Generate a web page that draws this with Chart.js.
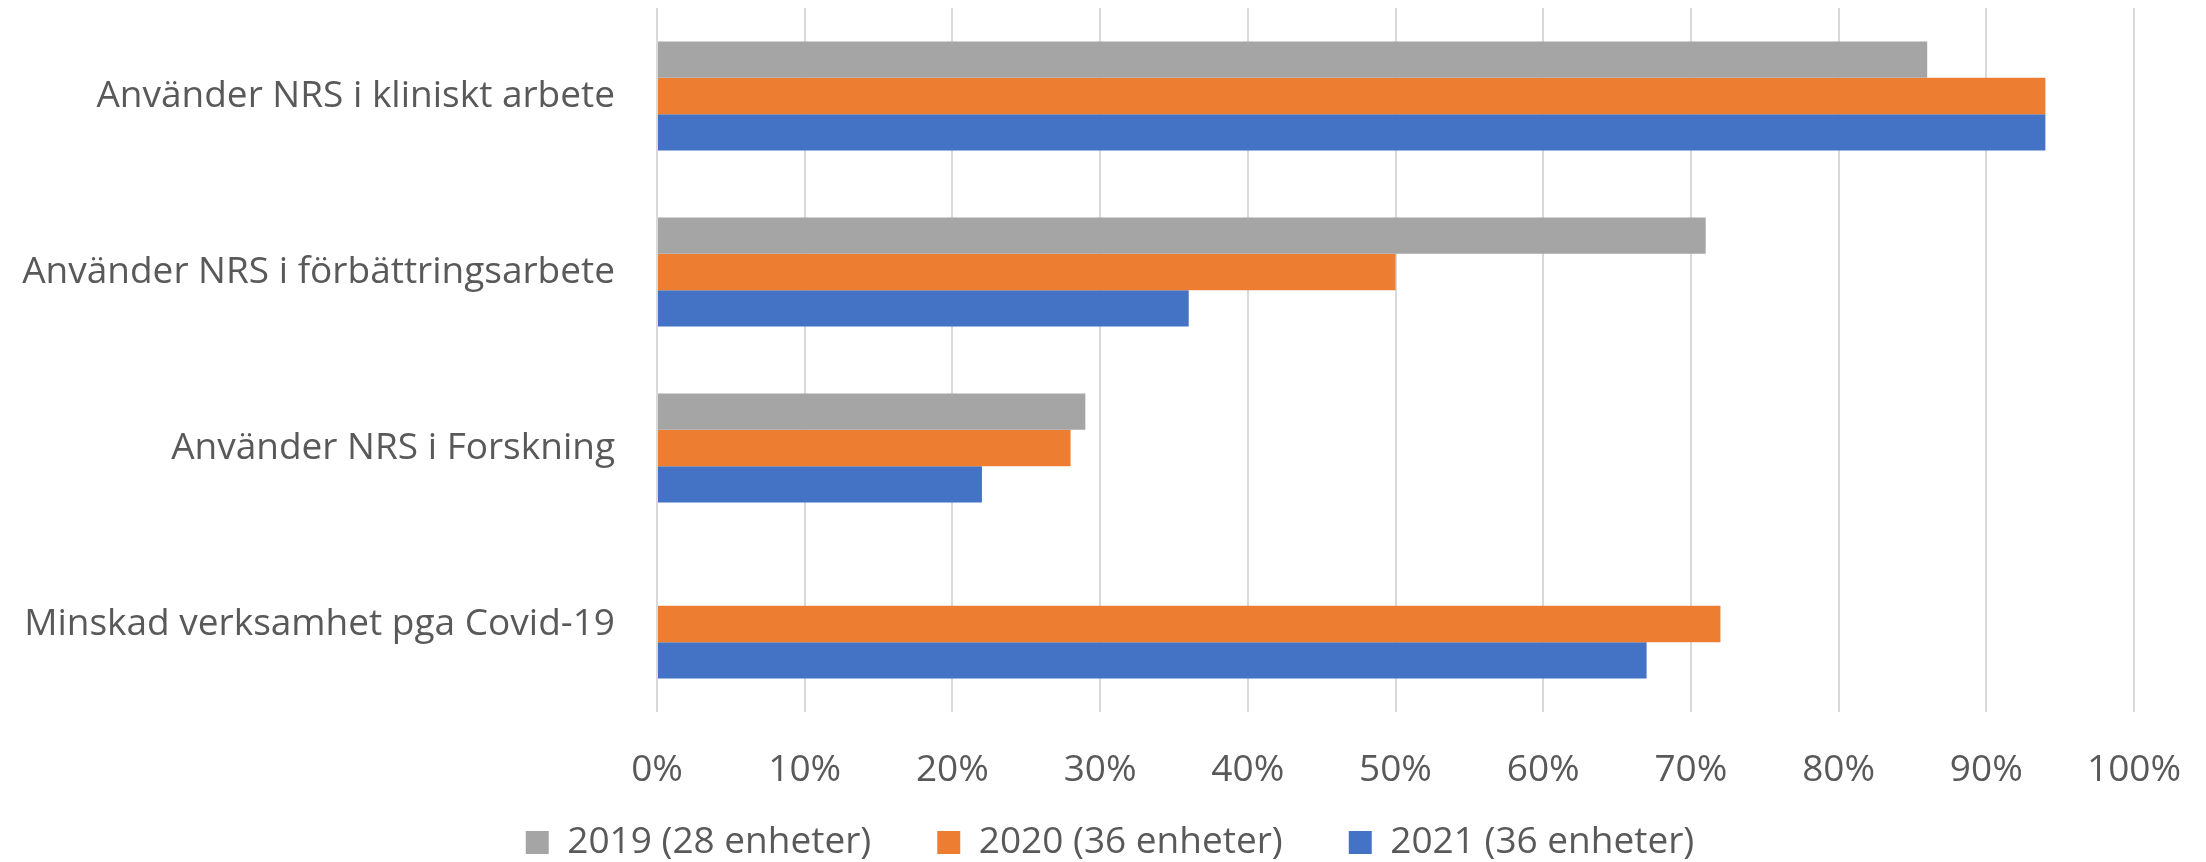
<!DOCTYPE html>
<html>
<head>
<meta charset="utf-8">
<script src="https://cdn.jsdelivr.net/npm/chart.js@4.4.0/dist/chart.umd.min.js"></script>
<style>
    html, body { margin: 0; padding: 0; background: #ffffff; }
    #wrap { width: 2206px; height: 862px; }
</style>
</head>
<body>
<div id="wrap"><canvas id="barChart" width="2206" height="862"></canvas></div>
<script>
const categories = [
    'Använder NRS i kliniskt arbete',
    'Använder NRS i förbättringsarbete',
    'Använder NRS i Forskning',
    'Minskad verksamhet pga Covid-19'
];
const seriesNames = ['2019 (28 enheter)', '2020 (36 enheter)', '2021 (36 enheter)'];
const values2019 = [86, 71, 29, null];
const values2020 = [94, 50, 28, 72];
const values2021 = [94, 36, 22, 67];
const tickValues = [0, 10, 20, 30, 40, 50, 60, 70, 80, 90, 100];

const textColor = '#595959';
const fontFamily = '"Open Sans", sans-serif';
const leftPad = 86;

// labels hang outside their scale boxes here, so don't clip them
function noLabelClip(scale) {
    scale._computeLabelArea = () => null;
}

function createBarChart() {
    const ctx = document.getElementById('barChart').getContext('2d');

    new Chart(ctx, {
        type: 'bar',
        data: {
            labels: categories,
            datasets: [
                { label: seriesNames[0], data: values2019, backgroundColor: '#A5A5A5' },
                { label: seriesNames[1], data: values2020, backgroundColor: '#ED7D31' },
                { label: seriesNames[2], data: values2021, backgroundColor: '#4472C4' }
            ]
        },
        options: {
            indexAxis: 'y',
            responsive: false,
            animation: false,
            devicePixelRatio: 1,
            datasets: {
                bar: { categoryPercentage: 0.62, barPercentage: 1.0 }
            },
            layout: {
                padding: { top: 8, right: 72, bottom: 0, left: leftPad }
            },
            scales: {
                x: {
                    min: 0,
                    max: 100,
                    afterBuildTicks: scale => {
                        scale.ticks = tickValues.map(v => ({ value: v }));
                    },
                    afterFit: scale => {
                        scale.height = 46;
                        scale.paddingLeft = 0;
                        scale.paddingRight = 0;
                        noLabelClip(scale);
                    },
                    grid: { color: '#D9D9D9', lineWidth: 2, drawTicks: false },
                    border: { display: false },
                    ticks: {
                        padding: 36,
                        color: textColor,
                        font: { family: fontFamily, size: 37 },
                        callback: v => v + '%'
                    }
                },
                y: {
                    afterFit: scale => {
                        scale.width = 657 - leftPad;
                        scale.paddingTop = 0;
                        scale.paddingBottom = 0;
                        noLabelClip(scale);
                    },
                    grid: { display: false, drawTicks: false },
                    border: { display: false },
                    ticks: {
                        padding: 42,
                        color: textColor,
                        font: { family: fontFamily, size: 37 }
                    }
                }
            },
            plugins: {
                legend: {
                    position: 'bottom',
                    maxHeight: 104,
                    labels: {
                        color: textColor,
                        font: { family: fontFamily, size: 37 },
                        boxWidth: 23,
                        boxHeight: 23,
                        padding: 66
                    }
                },
                tooltip: { enabled: false }
            }
        }
    });
}

createBarChart();
</script>
</body>
</html>
